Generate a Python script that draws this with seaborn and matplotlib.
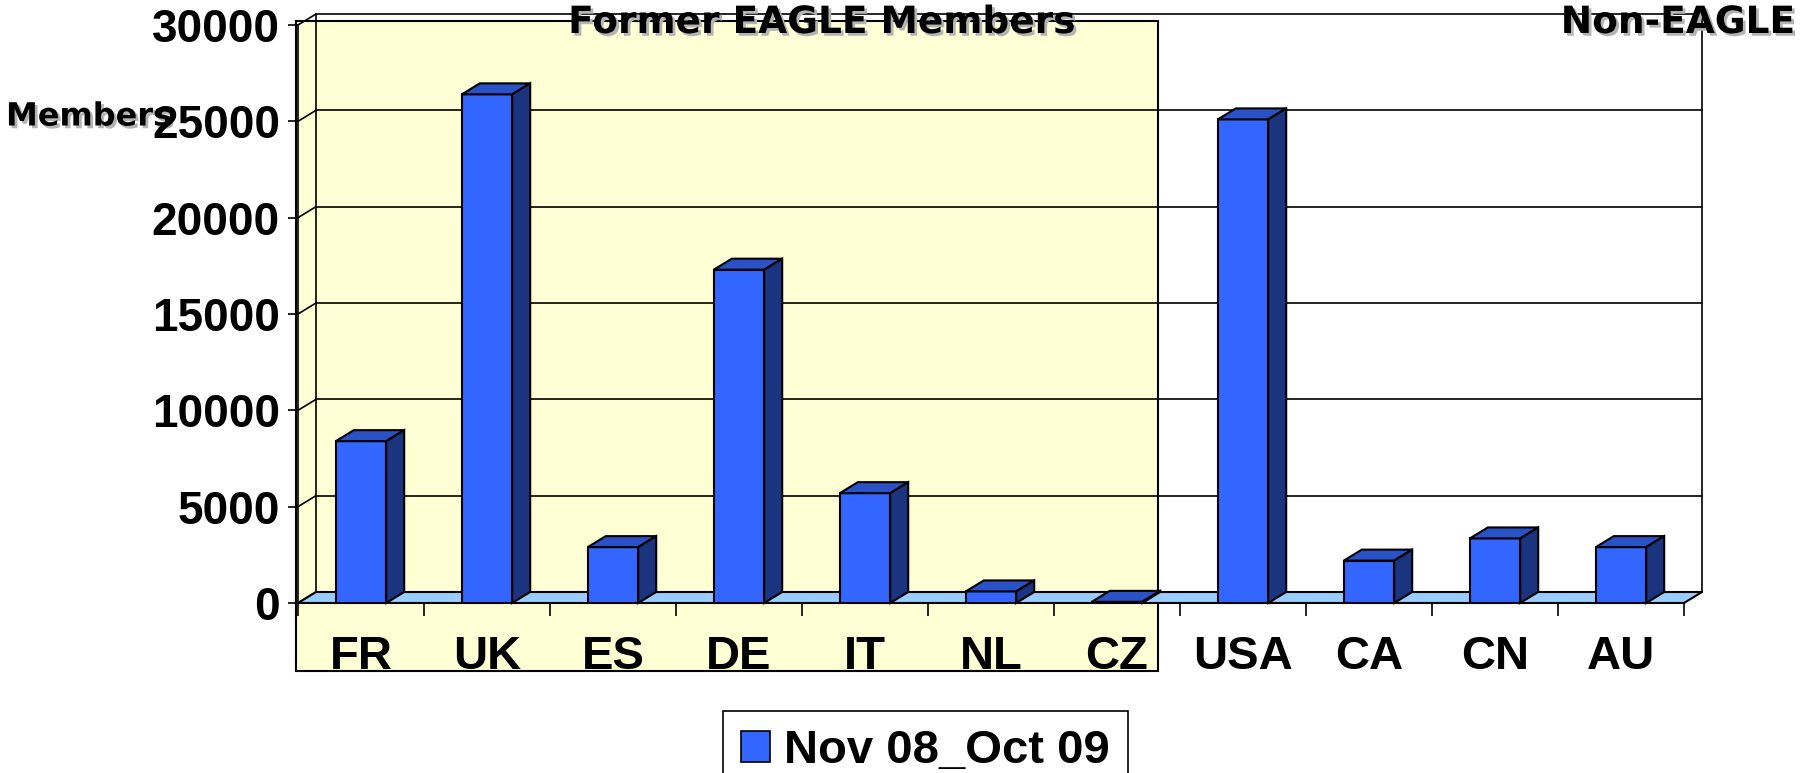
import numpy as np
import pandas as pd
import matplotlib
matplotlib.use('Agg')
import matplotlib.pyplot as plt
import matplotlib.patheffects as pe
from matplotlib.patches import Polygon, Rectangle, Patch
import seaborn as sns

# data
countries = ['FR', 'UK', 'ES', 'DE', 'IT', 'NL', 'CZ', 'USA', 'CA', 'CN', 'AU']
members = [8400, 26400, 2900, 17300, 5700, 600, 60, 25100, 2200, 3350, 2900]
series_name = 'Nov 08_Oct 09'
y_ticks = [0, 5000, 10000, 15000, 20000, 25000, 30000]

sns.set_style('white')
plt.rcParams['font.family'] = ['Liberation Sans', 'DejaVu Sans']
plt.rcParams['font.weight'] = 'bold'
plt.rcParams['text.color'] = 'black'
plt.rcParams['xtick.color'] = 'black'
plt.rcParams['ytick.color'] = 'black'
plt.rcParams['axes.edgecolor'] = 'black'

W, H = 1812, 773
fig = plt.figure(figsize=(W / 100, H / 100), dpi=100)


def px_box(l, t, r, b):
    return [l / W, 1 - b / H, (r - l) / W, (b - t) / H]


# yellow panel behind the former EAGLE members
fig.patches.append(Rectangle((296 / W, 1 - 671 / H), (1158 - 296) / W, (671 - 21) / H,
                             transform=fig.transFigure, facecolor='#FFFFD5',
                             edgecolor='black', lw=1.5, zorder=-1))

shadow = [pe.withSimplePatchShadow(offset=(2, -2), shadow_rgbFace='#b4b4b4', alpha=1)]
# axis title sits under the tick labels in the original
fig.text(6 / W, 1 - 117 / H, 'Members', ha='left', va='center', zorder=-1,
         fontsize=23, fontweight='bold', family='DejaVu Sans', path_effects=shadow)

ax = fig.add_axes(px_box(298, 25, 1684, 603))
ax.patch.set_visible(False)

df = pd.DataFrame({'country': countries, 'members': members})
sns.barplot(data=df, x='country', y='members', color='#3366FF', saturation=1,
            width=0.4, edgecolor='black', linewidth=1.5, ax=ax, zorder=4)
bars = list(ax.patches)

x0, x1 = -0.5, len(countries) - 0.5
ymax = 30000
ax.set_xlim(x0, x1)
ax.set_ylim(0, ymax)

# depth offset of the fake 3D look, in pixels -> data units
pos = ax.get_position()
ddx = 18 * (x1 - x0) / (pos.width * W)
ddy = 11 * ymax / (pos.height * H)

# back wall, side wall grid
line_kw = dict(color='black', lw=1.2, clip_on=False, zorder=1)
for v in y_ticks:
    ax.plot([x0 + ddx, x1 + ddx], [v + ddy, v + ddy], **line_kw)
    ax.plot([x0, x0 + ddx], [v, v + ddy], **line_kw)
ax.plot([x0 + ddx, x0 + ddx], [ddy, ymax + ddy], **line_kw)
ax.plot([x1 + ddx, x1 + ddx], [ddy, ymax + ddy], **line_kw)

# floor
ax.add_patch(Polygon([(x0, 0), (x1, 0), (x1 + ddx, ddy), (x0 + ddx, ddy)],
                     closed=True, facecolor='#99CCFF', edgecolor='black',
                     lw=1.5, clip_on=False, zorder=2))

# tops and sides of the bars
for b in bars:
    bx, bw, bh = b.get_x(), b.get_width(), b.get_height()
    top = [(bx, bh), (bx + bw, bh), (bx + bw + ddx, bh + ddy), (bx + ddx, bh + ddy)]
    side = [(bx + bw, 0), (bx + bw + ddx, ddy), (bx + bw + ddx, bh + ddy), (bx + bw, bh)]
    ax.add_patch(Polygon(top, closed=True, facecolor='#2A52C6', edgecolor='black',
                         lw=1.5, clip_on=False, zorder=5))
    ax.add_patch(Polygon(side, closed=True, facecolor='#1B3480', edgecolor='black',
                         lw=1.5, clip_on=False, zorder=5))

for s in ['top', 'right']:
    ax.spines[s].set_visible(False)
for s in ['left', 'bottom']:
    ax.spines[s].set_linewidth(1.2)
    ax.spines[s].set_zorder(3)

ax.set_xlabel('')
ax.set_ylabel('')
ax.set_yticks(y_ticks)
ax.set_yticklabels([str(v) for v in y_ticks])
ax.tick_params(axis='y', length=7, width=1.2, pad=6, labelsize=33, left=True)
ax.set_xticks(range(len(countries)))
ax.set_xticklabels(countries)
ax.set_xticks(np.arange(x0, x1 + 0.01, 1), minor=True)
ax.tick_params(axis='x', which='major', length=0, pad=23, labelsize=34)
ax.tick_params(axis='x', which='minor', length=9, width=1.2, bottom=True)

fig.text(822 / W, 1 - 23 / H, 'Former EAGLE Members', ha='center', va='center',
         fontsize=27, fontweight='bold', family='DejaVu Sans', path_effects=shadow)
fig.text(1678 / W, 1 - 23 / H, 'Non-EAGLE', ha='center', va='center',
         fontsize=27, fontweight='bold', family='DejaVu Sans', path_effects=shadow)

handles = [Patch(facecolor='#3366FF', edgecolor='black', lw=1.2, label=series_name)]
leg = fig.legend(handles=handles, loc='upper left', bbox_to_anchor=(723 / W, 1 - 711 / H),
                 bbox_transform=fig.transFigure, frameon=True, fancybox=False,
                 edgecolor='black', framealpha=1, fontsize=34, handlelength=0.62,
                 handleheight=0.62, handletextpad=0.3, borderpad=0.38, borderaxespad=0)
leg.get_frame().set_linewidth(1.2)

fig.savefig('out.png', dpi=100)
